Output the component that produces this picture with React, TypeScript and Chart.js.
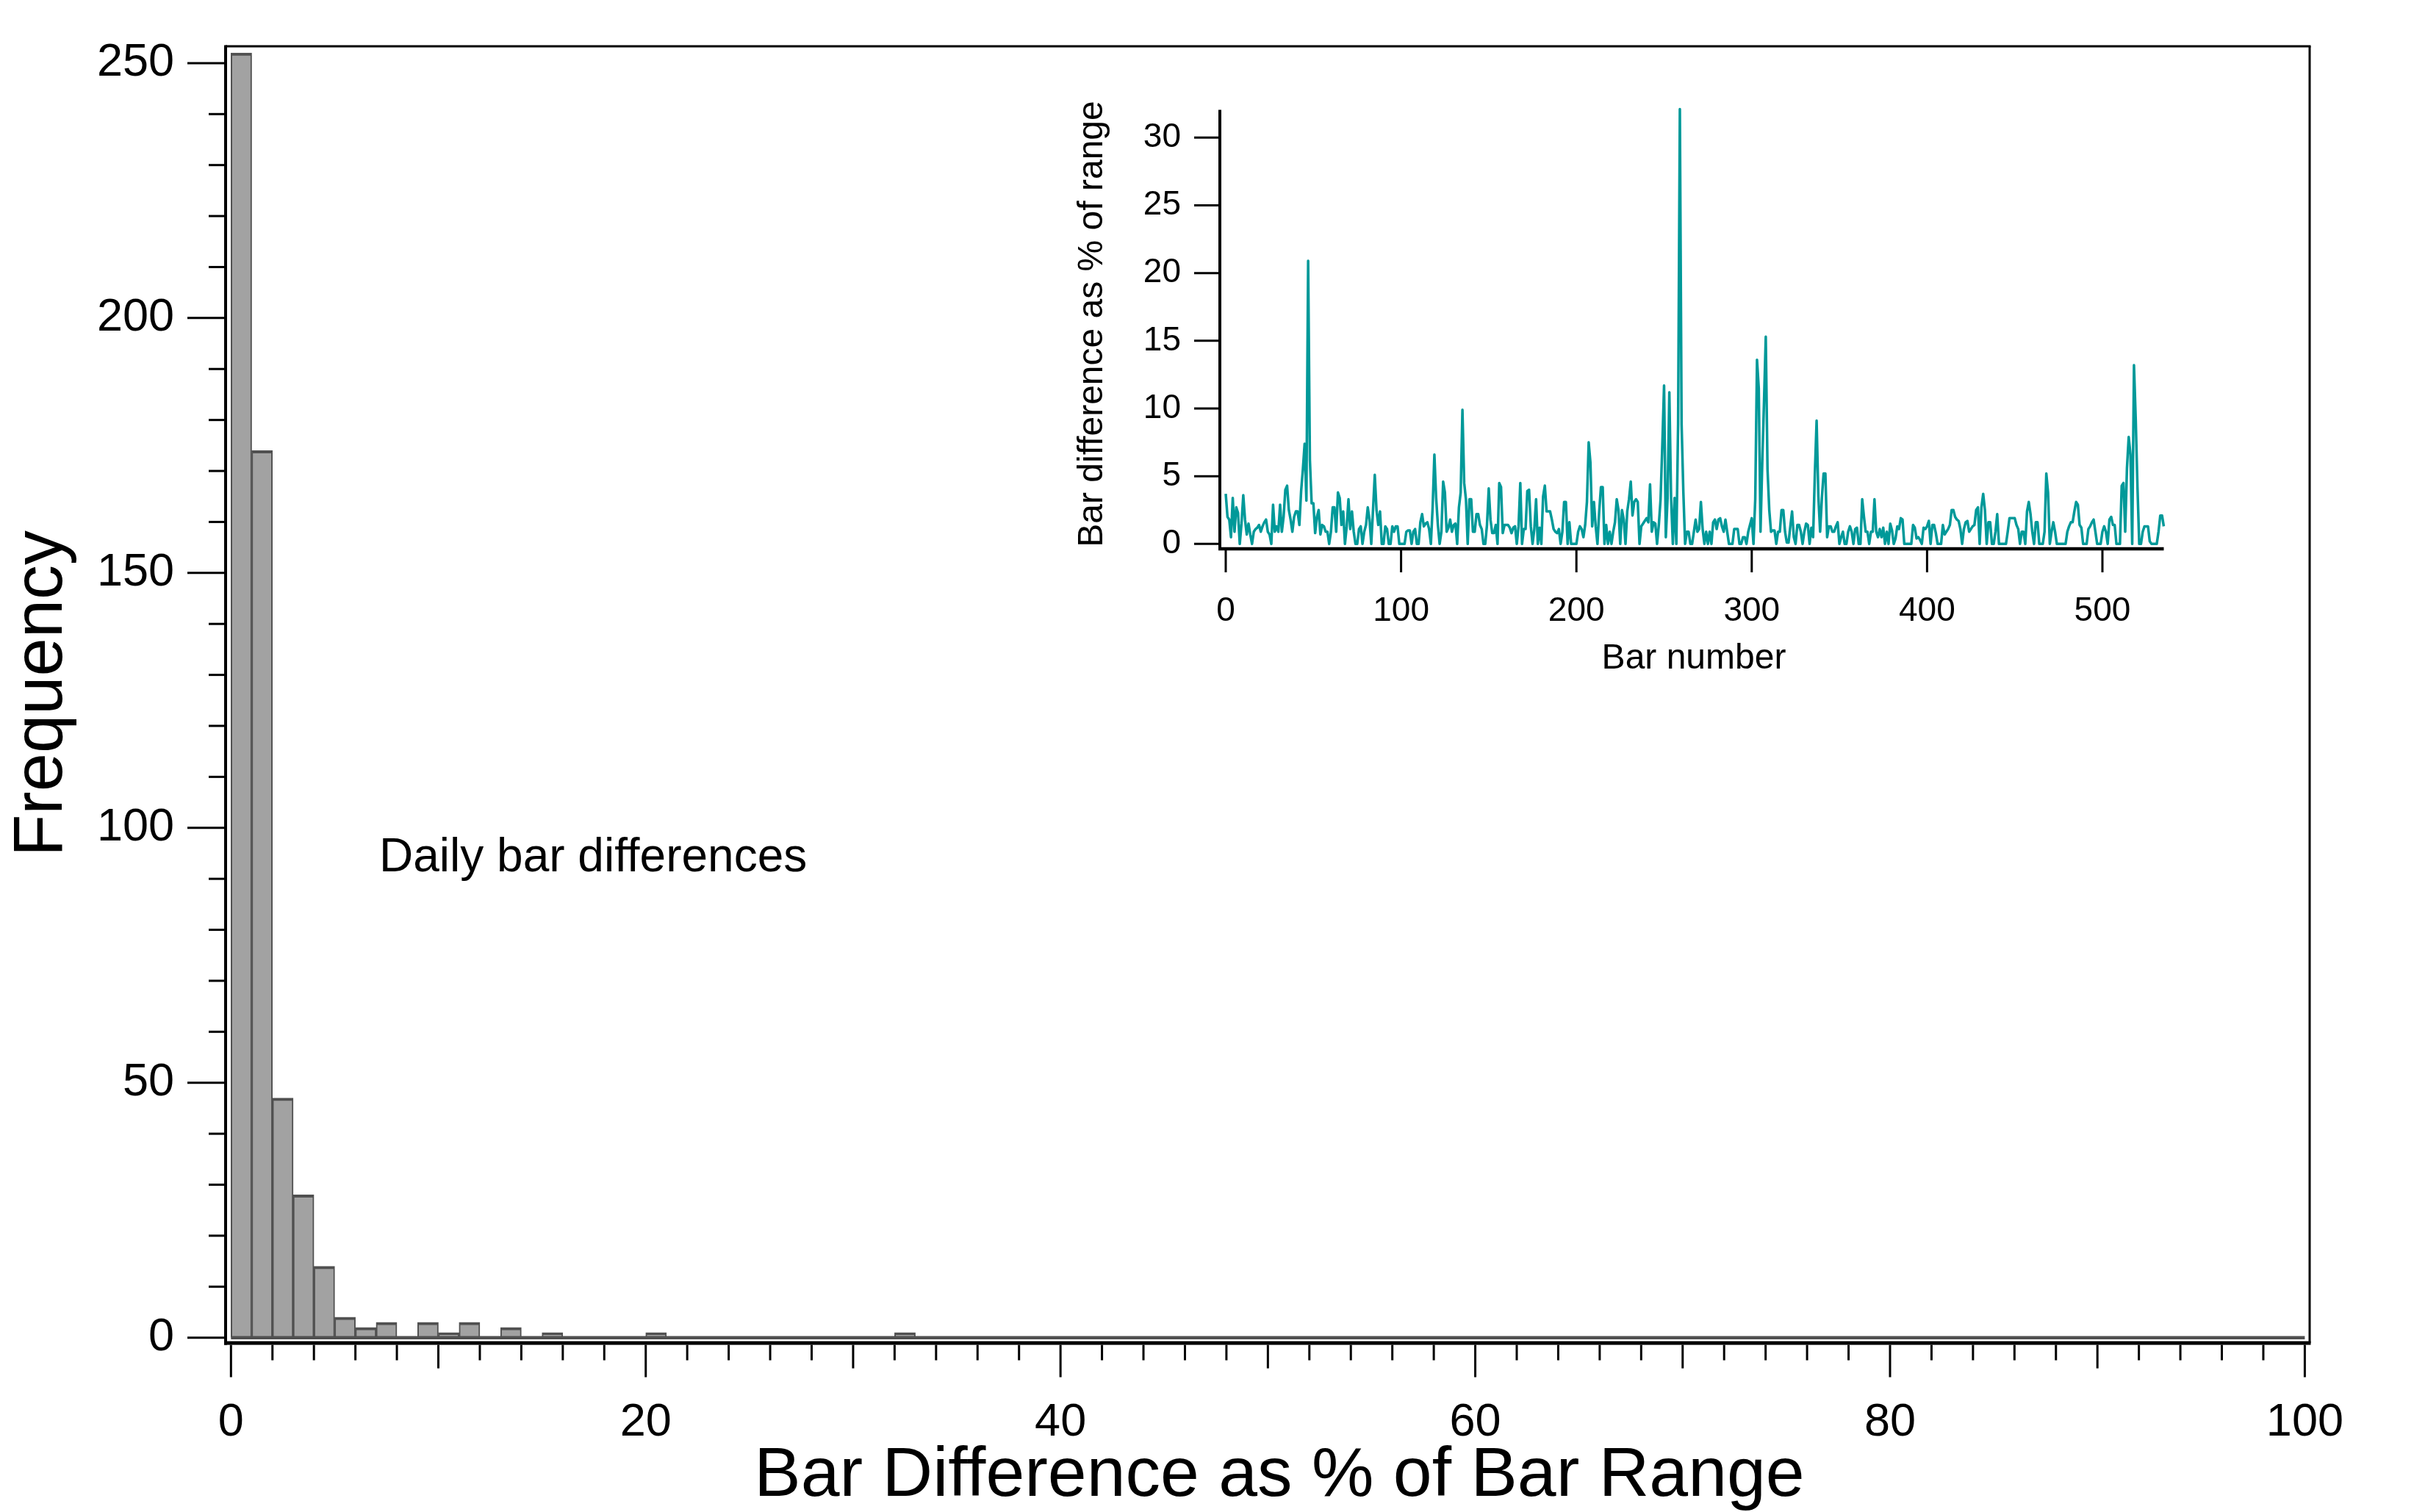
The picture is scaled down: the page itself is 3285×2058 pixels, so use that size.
import React, { useEffect, useRef } from "react";
import { Chart, registerables } from "chart.js";

Chart.register(...registerables);

const FONT = "'Liberation Sans', Arial, Helvetica, sans-serif";

// ---------- Histogram (main chart) ----------
const histBinWidth = 1;
const histCounts = [
  252, 174, 47, 28, 14, 4, 2, 3, 0, 3,
  1, 3, 0, 2, 0, 1, 0, 0, 0, 0,
  1, 0, 0, 0, 0, 0, 0, 0, 0, 0,
  0, 0, 1, 0, 0, 0, 0, 0, 0, 0,
  0, 0, 0, 0, 0, 0, 0, 0, 0, 0,
  0, 0, 0, 0, 0, 0, 0, 0, 0, 0,
  0, 0, 0, 0, 0, 0, 0, 0, 0, 0,
  0, 0, 0, 0, 0, 0, 0, 0, 0, 0,
  0, 0, 0, 0, 0, 0, 0, 0, 0, 0,
  0, 0, 0, 0, 0, 0, 0, 0, 0, 0,
];
const histXTicks = [0, 20, 40, 60, 80, 100];
const histYTicks = [0, 50, 100, 150, 200, 250];
const histXMinorStep = 2;
const histXMidStep = 10;
const histYMinorStep = 10;

// ---------- Inset series ----------
const barDifference = [
  // 0-72
  3.7, 2.0, 1.8, 0.5, 3.4, 0.9, 2.7, 2.3, 0.0, 1.5,
  3.6, 1.8, 0.7, 1.5, 0.7, 0.0, 0.9, 1.1, 1.2, 1.4,
  0.9, 1.3, 1.6, 1.8, 0.9, 0.7, 0.0, 2.9, 0.9, 1.3,
  0.9, 2.9, 0.9, 2.0, 4.0, 4.3, 2.5, 1.8, 0.9, 2.0,
  2.4, 2.4, 1.4, 3.9, 5.5, 7.4, 3.2, 20.9, 6.2, 3.0,
  3.0, 0.8, 2.0, 2.5, 0.7, 1.4, 1.3, 0.9, 0.9, 0.0,
  0.9, 2.7, 2.7, 0.9, 3.8, 3.4, 1.4, 2.4, 0.0, 1.3,
  3.3, 1.1, 2.4,
  // 73-149
  0.9, 0.0, 0.0, 1.1, 1.3, 0.0, 0.9, 1.4, 2.7, 1.8,
  0.0, 2.5, 5.1, 2.5, 1.4, 2.4, 0.0, 0.0, 1.3, 1.1,
  0.0, 0.0, 1.3, 0.9, 1.3, 1.3, 0.0, 0.0, 0.0, 0.0,
  0.9, 1.0, 1.0, 0.0, 0.9, 1.1, 0.0, 0.0, 1.6, 2.2,
  1.3, 1.5, 1.6, 1.1, 0.0, 2.7, 6.6, 3.4, 1.4, 0.0,
  0.9, 4.6, 3.8, 0.9, 1.2, 1.8, 0.9, 1.4, 1.5, 0.0,
  2.7, 3.8, 9.9, 4.5, 3.3, 0.0, 3.3, 3.3, 0.9, 0.9,
  2.2, 2.2, 1.4, 1.1, 0.0, 0.0, 1.4,
  // 150-227
  4.1, 1.8, 0.8, 0.8, 1.4, 0.0, 4.5, 4.2, 0.8, 1.4,
  1.4, 1.4, 1.2, 0.8, 1.2, 1.3, 0.0, 1.3, 4.5, 0.0,
  1.1, 1.1, 3.9, 4.0, 1.3, 0.0, 1.1, 3.3, 0.0, 1.2,
  0.0, 3.5, 4.3, 2.4, 2.4, 2.4, 1.8, 1.1, 0.9, 0.8,
  1.1, 0.0, 0.9, 3.1, 3.1, 0.0, 1.6, 0.0, 0.0, 0.0,
  0.0, 0.9, 1.3, 1.1, 0.5, 1.4, 3.1, 7.5, 6.0, 1.3,
  3.1, 1.3, 0.0, 2.4, 4.2, 4.2, 0.0, 1.4, 0.0, 0.9,
  0.0, 0.9, 1.6, 3.3, 2.5, 0.0, 2.5, 1.8,
  // 228-304
  0.0, 2.4, 3.3, 4.6, 2.1, 3.1, 3.3, 3.1, 0.0, 1.3,
  1.5, 1.7, 1.9, 1.6, 4.4, 0.9, 1.6, 1.5, 0.0, 1.4,
  3.3, 7.3, 11.7, 0.5, 3.4, 11.2, 3.4, 0.0, 3.4, 0.0,
  8.8, 32.1, 8.8, 3.8, 0.0, 0.9, 0.9, 0.0, 0.0, 0.9,
  1.8, 0.9, 1.1, 3.1, 1.1, 0.0, 0.9, 0.0, 0.9, 0.0,
  1.6, 1.8, 1.1, 1.8, 1.9, 1.3, 0.9, 1.8, 0.9, 0.0,
  0.0, 0.0, 1.1, 1.1, 1.1, 0.0, 0.0, 0.5, 0.5, 0.0,
  0.9, 1.4, 1.9, 0.0, 3.3, 13.6, 11.5,
  // 305-382
  0.9, 6.0, 10.5, 15.3, 5.5, 2.5, 0.9, 1.0, 1.0, 0.0,
  0.9, 0.9, 2.5, 2.5, 0.9, 0.1, 0.1, 1.3, 2.4, 0.5,
  0.0, 1.4, 1.4, 0.9, 0.0, 0.9, 1.5, 1.4, 0.0, 1.2,
  0.5, 5.2, 9.1, 3.5, 0.9, 3.4, 5.2, 5.2, 0.5, 1.3,
  1.3, 0.9, 0.9, 1.3, 1.6, 0.0, 0.5, 0.9, 0.0, 0.0,
  0.9, 1.3, 0.9, 0.0, 1.1, 1.2, 0.0, 0.0, 3.3, 2.0,
  0.9, 0.9, 0.0, 0.9, 0.9, 3.3, 0.9, 0.5, 1.1, 0.5,
  1.2, 0.0, 0.9, 0.0, 1.5, 1.0, 0.0, 0.4,
  // 383-460
  1.3, 1.1, 1.9, 1.8, 0.0, 0.0, 0.0, 0.0, 0.0, 1.4,
  1.2, 0.4, 0.5, 0.3, 0.0, 1.2, 1.1, 1.3, 1.7, 0.0,
  1.4, 1.4, 0.8, 0.0, 0.0, 0.0, 1.4, 0.7, 0.9, 1.1,
  1.4, 2.5, 2.5, 2.0, 1.8, 1.7, 1.1, 0.0, 1.1, 1.6,
  1.7, 0.9, 1.1, 1.3, 1.4, 2.5, 2.7, 0.0, 2.7, 3.7,
  2.5, 0.0, 1.6, 1.6, 0.0, 0.0, 0.9, 2.2, 0.0, 0.0,
  0.0, 0.0, 0.0, 0.9, 1.9, 1.9, 1.9, 1.9, 1.4, 1.1,
  0.0, 0.9, 0.9, 0.0, 2.4, 3.1, 2.2, 0.9,
  // 461-535
  0.0, 1.6, 1.6, 0.0, 0.0, 0.0, 0.9, 5.2, 3.8, 0.0,
  0.9, 1.6, 0.9, 0.0, 0.0, 0.0, 0.0, 0.0, 0.0, 0.9,
  1.3, 1.6, 1.6, 2.4, 3.1, 2.9, 1.4, 1.2, 0.0, 0.0,
  0.0, 1.1, 1.3, 1.6, 1.8, 0.9, 0.0, 0.0, 0.0, 0.9,
  1.3, 0.9, 0.0, 1.8, 2.0, 1.4, 1.4, 0.0, 0.0, 0.0,
  4.3, 4.5, 0.9, 5.6, 7.9, 6.6, 0.0, 13.2, 9.2, 4.2,
  0.0, 0.0, 0.9, 1.3, 1.3, 1.3, 0.2, 0.0, 0.0, 0.0,
  0.0, 0.9, 2.1, 2.1, 1.3,
];
const insetXTicks = [0, 100, 200, 300, 400, 500];
const insetYTicks = [0, 5, 10, 15, 20, 25, 30];

// ---------- Texts ----------
const mainXTitle = "Bar Difference as % of Bar Range";
const mainYTitle = "Frequency";
const annotationText = "Daily bar differences";
const insetXTitle = "Bar number";
const insetYTitle = "Bar difference as % of range";

function seg(ctx: CanvasRenderingContext2D, x1: number, y1: number, x2: number, y2: number) {
  ctx.beginPath();
  ctx.moveTo(x1, y1);
  ctx.lineTo(x2, y2);
  ctx.stroke();
}

const zeroPadX = (s: any, h: number) => {
  s.height = h;
  s.paddingLeft = 0;
  s.paddingRight = 0;
  s.paddingTop = 0;
  s.paddingBottom = 0;
};
const zeroPadY = (s: any, w: number) => {
  s.width = w;
  s.paddingLeft = 0;
  s.paddingRight = 0;
  s.paddingTop = 0;
  s.paddingBottom = 0;
};

const mainDecor = {
  id: "mainDecor",
  afterDraw(chart: any) {
    const ctx: CanvasRenderingContext2D = chart.ctx;
    const a = chart.chartArea;
    const xs = chart.scales.x;
    const ys = chart.scales.y;
    ctx.save();
    ctx.strokeStyle = "#000";
    ctx.lineCap = "butt";
    // frame
    ctx.lineWidth = 3;
    seg(ctx, a.left, a.top, a.right + 1.5, a.top);
    seg(ctx, a.right, a.top, a.right, a.bottom);
    // axes
    ctx.lineWidth = 4;
    seg(ctx, a.left, a.top - 1.5, a.left, a.bottom + 2.5);
    ctx.lineWidth = 5;
    seg(ctx, a.left - 2, a.bottom, a.right + 1.5, a.bottom);
    // x ticks
    ctx.lineWidth = 3;
    const x0 = histXTicks[0];
    const x1 = histXTicks[histXTicks.length - 1];
    for (let v = x0; v <= x1 + 1e-9; v += histXMinorStep) {
      const px = xs.getPixelForValue(v);
      const len = histXTicks.includes(v) ? 44 : v % histXMidStep === 0 ? 32 : 21;
      seg(ctx, px, a.bottom + 2.5, px, a.bottom + 2.5 + len);
    }
    // y ticks
    const y0 = histYTicks[0];
    const y1 = histYTicks[histYTicks.length - 1];
    for (let v = y0; v <= y1 + 1e-9; v += histYMinorStep) {
      const py = ys.getPixelForValue(v);
      const len = histYTicks.includes(v) ? 50 : 21;
      seg(ctx, a.left - 2, py, a.left - 2 - len, py);
    }
    // titles
    ctx.fillStyle = "#000";
    ctx.font = `95px ${FONT}`;
    ctx.textAlign = "center";
    ctx.textBaseline = "alphabetic";
    ctx.fillText(mainXTitle, 1741, 2036);
    ctx.save();
    ctx.translate(84, 944);
    ctx.rotate(-Math.PI / 2);
    ctx.font = `94px ${FONT}`;
    ctx.fillText(mainYTitle, 0, 0);
    ctx.restore();
    ctx.font = `64px ${FONT}`;
    ctx.textAlign = "left";
    ctx.fillText(annotationText, 516, 1186);
    ctx.restore();
  },
};

const insetDecor = {
  id: "insetDecor",
  afterDraw(chart: any) {
    const ctx: CanvasRenderingContext2D = chart.ctx;
    const a = chart.chartArea;
    const xs = chart.scales.x;
    const ys = chart.scales.y;
    ctx.save();
    ctx.strokeStyle = "#000";
    ctx.lineCap = "butt";
    ctx.lineWidth = 4;
    seg(ctx, a.left, a.top, a.left, a.bottom + 2);
    ctx.lineWidth = 4.5;
    seg(ctx, a.left - 2, a.bottom, a.right, a.bottom);
    ctx.lineWidth = 3;
    for (const v of insetXTicks) {
      const px = xs.getPixelForValue(v);
      seg(ctx, px, a.bottom + 2, px, a.bottom + 32);
    }
    for (const v of insetYTicks) {
      const py = ys.getPixelForValue(v);
      seg(ctx, a.left - 2, py, a.left - 35, py);
    }
    ctx.fillStyle = "#000";
    ctx.font = `48px ${FONT}`;
    ctx.textAlign = "center";
    ctx.textBaseline = "alphabetic";
    ctx.fillText(insetXTitle, 925, 810);
    ctx.save();
    ctx.translate(120, 341);
    ctx.rotate(-Math.PI / 2);
    ctx.fillText(insetYTitle, 0, 0);
    ctx.restore();
    ctx.restore();
  },
};

export default function App() {
  const mainRef = useRef<HTMLCanvasElement | null>(null);
  const insetRef = useRef<HTMLCanvasElement | null>(null);

  useEffect(() => {
    const histData = histCounts.map((c, i) => ({ x: (i + 0.5) * histBinWidth, y: c }));
    const baseline = [
      { x: 0, y: 0 },
      { x: histCounts.length * histBinWidth, y: 0 },
    ];
    const main = new Chart(mainRef.current as HTMLCanvasElement, {
      type: "bar",
      data: {
        datasets: [
          {
            type: "bar",
            data: histData as any,
            backgroundColor: "#a2a2a2",
            borderColor: "#505050",
            borderWidth: { top: 4, left: 2, right: 2, bottom: 0 } as any,
            borderSkipped: false,
            barPercentage: 1,
            categoryPercentage: 1,
            order: 1,
          } as any,
          {
            type: "line",
            data: baseline as any,
            borderColor: "#505050",
            borderWidth: 4.5,
            pointRadius: 0,
            order: 0,
          } as any,
        ],
      },
      options: {
        animation: false,
        responsive: false,
        devicePixelRatio: 1,
        layout: { padding: { left: 0, top: 63, right: 142, bottom: 0 } },
        plugins: { legend: { display: false }, tooltip: { enabled: false } },
        scales: {
          x: {
            type: "linear",
            min: -0.259,
            max: 100.234,
            offset: false,
            grid: { display: false, drawTicks: false },
            border: { display: false },
            ticks: {
              font: { family: FONT, size: 63 },
              color: "#000",
              padding: 71,
              maxRotation: 0,
              autoSkip: false,
              callback: (v: any) => String(v),
            },
            afterBuildTicks: (s: any) => {
              s.ticks = histXTicks.map((v) => ({ value: v }));
            },
            afterFit: (s: any) => zeroPadX(s, 230),
          },
          y: {
            type: "linear",
            min: -1.052,
            max: 253.3,
            grid: { display: false, drawTicks: false },
            border: { display: false },
            ticks: {
              font: { family: FONT, size: 63 },
              color: "#000",
              padding: 70,
              autoSkip: false,
              callback: (v: any) => String(v),
            },
            afterBuildTicks: (s: any) => {
              s.ticks = histYTicks.map((v) => ({ value: v }));
            },
            afterFit: (s: any) => zeroPadY(s, 307),
          },
        },
      } as any,
      plugins: [mainDecor],
    });

    const insetData = barDifference.map((v, i) => ({ x: i, y: v }));
    const inset = new Chart(insetRef.current as HTMLCanvasElement, {
      type: "line",
      data: {
        datasets: [
          {
            data: insetData as any,
            borderColor: "#009999",
            borderWidth: 3.5,
            pointRadius: 0,
            tension: 0,
            clip: false,
            borderJoinStyle: "round",
          } as any,
        ],
      },
      options: {
        animation: false,
        responsive: false,
        devicePixelRatio: 1,
        layout: { padding: { left: 0, top: 49.5, right: 55.5, bottom: 0 } },
        plugins: { legend: { display: false }, tooltip: { enabled: false } },
        scales: {
          x: {
            type: "linear",
            min: -3.35,
            max: 535,
            grid: { display: false, drawTicks: false },
            border: { display: false },
            ticks: {
              font: { family: FONT, size: 46 },
              color: "#000",
              padding: 58,
              maxRotation: 0,
              autoSkip: false,
              callback: (v: any) => String(v),
            },
            afterBuildTicks: (s: any) => {
              s.ticks = insetXTicks.map((v) => ({ value: v }));
            },
            afterFit: (s: any) => zeroPadX(s, 203),
          },
          y: {
            type: "linear",
            min: -0.36,
            max: 32.05,
            grid: { display: false, drawTicks: false },
            border: { display: false },
            ticks: {
              font: { family: FONT, size: 46 },
              color: "#000",
              padding: 53,
              autoSkip: false,
              callback: (v: any) => String(v),
            },
            afterBuildTicks: (s: any) => {
              s.ticks = insetYTicks.map((v) => ({ value: v }));
            },
            afterFit: (s: any) => zeroPadY(s, 280),
          },
        },
      } as any,
      plugins: [insetDecor],
    });

    return () => {
      main.destroy();
      inset.destroy();
    };
  }, []);

  return (
    <div
      style={{
        position: "fixed",
        left: 0,
        top: 0,
        width: 3285,
        height: 2058,
        background: "#ffffff",
        overflow: "hidden",
      }}
    >
      <canvas
        ref={mainRef}
        width={3285}
        height={2058}
        style={{ position: "absolute", left: 0, top: 0, width: 3285, height: 2058 }}
      />
      <canvas
        ref={insetRef}
        width={1620}
        height={850}
        style={{ position: "absolute", left: 1380, top: 100, width: 1620, height: 850 }}
      />
    </div>
  );
}
